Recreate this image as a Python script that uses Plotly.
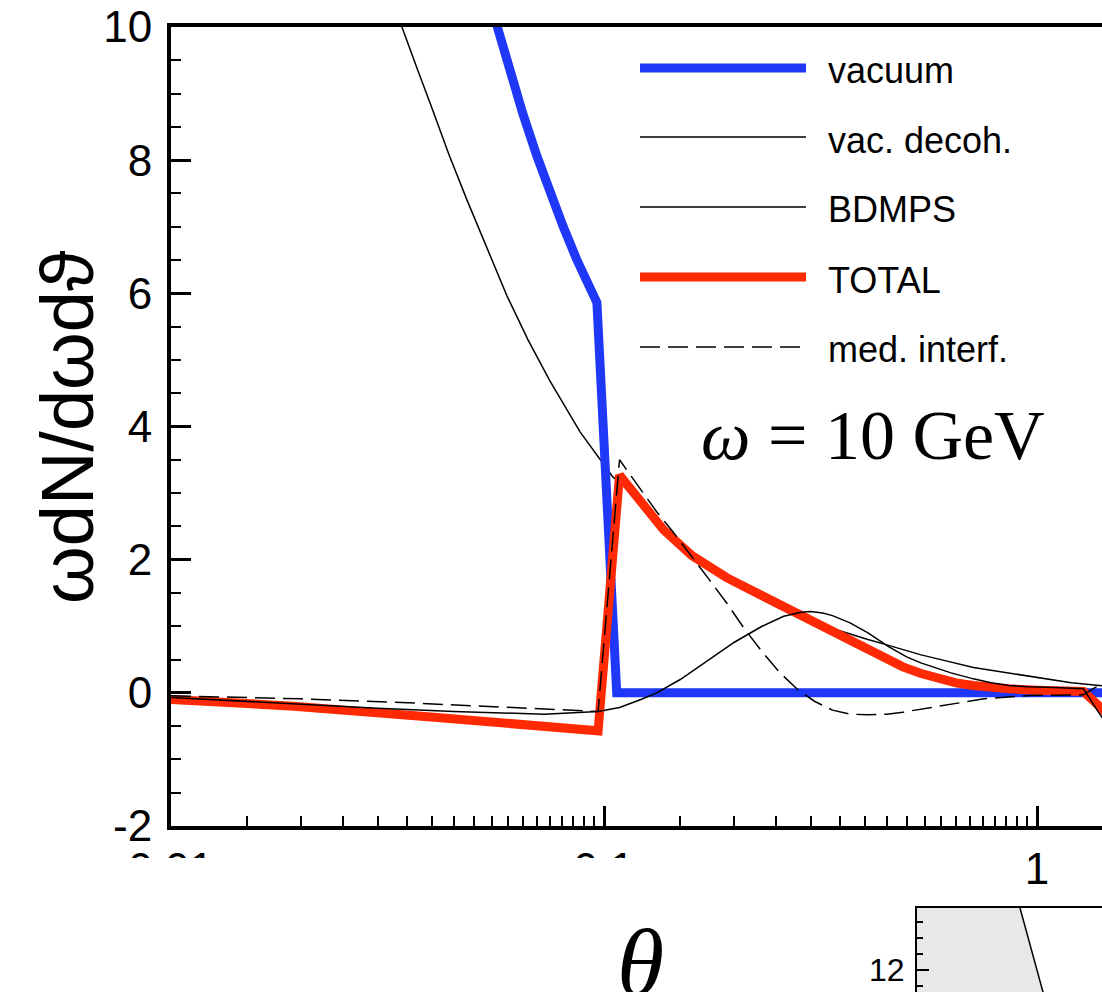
import plotly.graph_objects as go

W, H = 1102, 992

# ---- spectra  omega dN/(d omega d theta)  at omega = 10 GeV ----
theta_vacuum = [0.053, 0.0566, 0.0607, 0.065, 0.070, 0.075, 0.0804, 0.0866,
                0.0963, 0.107, 1.6]
vacuum = [10.65, 10.0, 9.32, 8.69, 8.06, 7.52, 7.01, 6.50,
          5.86, 0.0, 0.0]

theta_decoh = [0.032, 0.03417, 0.037, 0.04007, 0.04386, 0.04827, 0.05368,
               0.0597, 0.06676, 0.07505, 0.08805, 0.1049, 0.1086, 0.12,
               0.137, 0.16, 0.192, 0.22, 0.25, 0.28, 0.324, 0.37, 0.407,
               0.45, 0.49, 0.54, 0.59, 0.65, 0.713, 0.783, 0.861, 0.95,
               1.077, 1.2, 1.42, 1.6]
vac_decoh = [10.5, 9.98, 9.38, 8.78, 8.08, 7.40, 6.67,
             5.96, 5.30, 4.68, 3.92, 3.24, 3.17, 2.87,
             2.41, 2.02, 1.70, 1.48, 1.29, 1.15, 1.0, 0.88, 0.80,
             0.72, 0.65, 0.57, 0.51, 0.44, 0.38, 0.34, 0.30, 0.25,
             0.195, 0.15, 0.105, 0.08]

theta_bdmps = [0.01, 0.0192, 0.03, 0.045, 0.0557, 0.0727, 0.0969, 0.1086,
               0.1217, 0.1323, 0.15, 0.175, 0.2, 0.2317, 0.26, 0.285, 0.3,
               0.32, 0.337, 0.37, 0.407, 0.455, 0.5, 0.539, 0.59, 0.633,
               0.713, 0.783, 0.861, 0.953, 1.1, 1.28, 1.39, 1.5]
bdmps = [-0.07, -0.17, -0.23, -0.28, -0.3, -0.32, -0.28, -0.22,
         -0.1, 0.0, 0.2, 0.5, 0.76, 1.0, 1.15, 1.21, 1.22,
         1.2, 1.16, 1.05, 0.9, 0.69, 0.54, 0.45, 0.36, 0.3,
         0.21, 0.15, 0.11, 0.09, 0.08, 0.06, -0.3, -0.6]

theta_total = [0.01, 0.0192, 0.0392, 0.0555, 0.0795, 0.0969, 0.1086, 0.12,
               0.1372, 0.1596, 0.175, 0.192, 0.21, 0.2317, 0.255, 0.28,
               0.307, 0.337, 0.37, 0.407, 0.45, 0.49, 0.54, 0.59, 0.65,
               0.713, 0.78, 0.861, 1.0, 1.15, 1.28, 1.5]
total = [-0.1, -0.2, -0.36, -0.45, -0.55, -0.57, 3.27, 2.92,
         2.45, 2.06, 1.88, 1.73, 1.60, 1.46, 1.33, 1.19,
         1.06, 0.93, 0.79, 0.64, 0.50, 0.39, 0.29, 0.21, 0.15,
         0.11, 0.08, 0.06, 0.04, 0.03, 0.02, -0.4]

theta_interf = [0.01, 0.02, 0.0327, 0.0555, 0.0795, 0.0969, 0.1086, 0.12,
                0.1323, 0.145, 0.1596, 0.175, 0.192, 0.21, 0.2317, 0.255,
                0.28, 0.307, 0.337, 0.37, 0.407, 0.45, 0.49, 0.56, 0.633,
                0.755, 0.953, 1.28, 1.37, 1.5]
med_interf = [-0.045, -0.09, -0.14, -0.21, -0.25, -0.28, 3.5, 3.1,
              2.72, 2.4, 2.05, 1.7, 1.35, 0.98, 0.62, 0.3,
              0.05, -0.13, -0.26, -0.32, -0.33, -0.32, -0.29, -0.23, -0.17,
              -0.09, -0.04, -0.03, 0.09, 0.25]

# ---- small panel below ----
inset_x = [0.545, 0.62, 0.695]
inset_y = [14.2, 12.6, 11.0]

# ---- axis ticks ----
x_major = [0.01, 0.1, 1]
x_major_text = ["0.01", "0.1", "1"]
x_minor = [round(k * 0.005, 4) for k in range(3, 20)] + [round(k * 0.05, 3) for k in range(3, 20)]
y_major = [-2, 0, 2, 4, 6, 8, 10]
y_major_text = ["-2", "0", "2", "4", "6", "8", "10"]

BLUE = "#1F37F6"
RED = "#FF2A04"
SANS = "Liberation Sans, Arial, DejaVu Sans, sans-serif"
SERIF = "Liberation Serif, Times New Roman, DejaVu Serif, serif"


def fx(p):
    return p / W


def fy(p):
    return 1 - p / H


fig = go.Figure()

fig.add_trace(go.Scatter(x=theta_decoh, y=vac_decoh, mode="lines",
                         line=dict(color="black", width=1.5), name="vac. decoh."))
fig.add_trace(go.Scatter(x=theta_vacuum, y=vacuum, mode="lines",
                         line=dict(color=BLUE, width=9), name="vacuum"))
fig.add_trace(go.Scatter(x=theta_total, y=total, mode="lines",
                         line=dict(color=RED, width=9), name="TOTAL"))
fig.add_trace(go.Scatter(x=theta_bdmps, y=bdmps, mode="lines",
                         line=dict(color="black", width=1.5), name="BDMPS"))
fig.add_trace(go.Scatter(x=theta_interf, y=med_interf, mode="lines",
                         line=dict(color="black", width=1.5, dash="20px,8px"),
                         name="med. interf."))

fig.add_trace(go.Scatter(x=inset_x, y=inset_y, mode="lines", fill="tozerox",
                         fillcolor="#E8E8E8", line=dict(color="black", width=1.5),
                         xaxis="x2", yaxis="y2", showlegend=False))

fig.update_layout(
    width=W, height=H, autosize=False,
    margin=dict(l=0, r=0, t=0, b=0),
    template="none",
    paper_bgcolor="white", plot_bgcolor="rgba(0,0,0,0)",
    showlegend=False,
    xaxis=dict(
        type="log", range=[-2, 0.1501], domain=[fx(171), 1],
        showline=True, linewidth=4, linecolor="black", mirror=True,
        showgrid=False, zeroline=False,
        tickmode="array", tickvals=x_major, ticktext=x_major_text,
        ticks="inside", ticklen=20, tickwidth=3, tickcolor="black",
        minor=dict(tickmode="array", tickvals=x_minor, ticks="inside",
                   ticklen=10, tickwidth=2, tickcolor="black", showgrid=False),
        tickfont=dict(family=SANS, size=44, color="black"),
        ticklabelstandoff=1, automargin=False,
    ),
    yaxis=dict(
        range=[-2, 10], domain=[fy(826), fy(27)],
        showline=True, linewidth=4, linecolor="black", mirror=False,
        showgrid=False, zeroline=False,
        tickmode="array", tickvals=y_major, ticktext=y_major_text,
        ticks="inside", ticklen=20, tickwidth=3, tickcolor="black",
        minor=dict(dtick=0.5, ticks="inside", ticklen=10, tickwidth=2,
                   tickcolor="black", showgrid=False),
        tickfont=dict(family=SANS, size=44, color="black"),
        ticklabelstandoff=6, automargin=False,
    ),
    xaxis2=dict(
        range=[0, 1], domain=[fx(917), 1], anchor="y2", side="top",
        showline=True, linewidth=2, linecolor="black", mirror=False,
        showgrid=False, zeroline=False, ticks="", showticklabels=False,
        automargin=False,
    ),
    yaxis2=dict(
        range=[11.3, 13.95], domain=[0, fy(908)], anchor="x2",
        showline=True, linewidth=2, linecolor="black", mirror=False,
        showgrid=False, zeroline=False,
        tick0=0, dtick=2, ticks="inside", ticklen=12, tickwidth=2,
        tickcolor="black",
        minor=dict(dtick=0.5, ticks="inside", ticklen=6, tickwidth=1.5,
                   tickcolor="black", showgrid=False),
        tickfont=dict(family=SANS, size=32, color="black"),
        ticklabelstandoff=4, automargin=False,
    ),
)

shapes = [
    # strip that hides the lower part of the 0.01 / 0.1 labels
    dict(type="rect", xref="paper", yref="paper", x0=0, x1=fx(860),
         y0=0, y1=fy(858), fillcolor="white", line=dict(width=0), layer="above"),
]
annotations = []

# legend drawn as line samples + labels
legend_rows = [
    ("vacuum", BLUE, 9, "solid", 68),
    ("vac. decoh.", "black", 1.5, "solid", 137),
    ("BDMPS", "black", 1.5, "solid", 207),
    ("TOTAL", RED, 9, "solid", 277),
    ("med. interf.", "black", 1.5, "20px,8px", 347),
]
for label, color, width, dash, yrow in legend_rows:
    shapes.append(dict(type="line", xref="paper", yref="paper",
                       x0=fx(640), x1=fx(806), y0=fy(yrow), y1=fy(yrow),
                       line=dict(color=color, width=width, dash=dash),
                       layer="above"))
    annotations.append(dict(x=fx(826), y=fy(yrow + 3), xref="paper", yref="paper",
                            text=label, showarrow=False, xanchor="left",
                            yanchor="middle",
                            font=dict(family=SANS, size=36, color="black")))

annotations.append(dict(x=fx(873), y=fy(436), xref="paper", yref="paper",
                        text="<i>ω</i> = 10 GeV", showarrow=False,
                        xanchor="center", yanchor="middle",
                        font=dict(family=SERIF, size=70, color="black")))

annotations.append(dict(x=fx(67), y=fy(427), xref="paper", yref="paper",
                        text="ωdN/dωdϑ", textangle=-90, showarrow=False,
                        xanchor="center", yanchor="middle",
                        font=dict(family=SANS, size=74, color="black")))

annotations.append(dict(x=fx(640), y=fy(962), xref="paper", yref="paper",
                        text="<i>θ</i>", showarrow=False,
                        xanchor="center", yanchor="middle",
                        font=dict(family=SERIF, size=96, color="black")))

fig.update_layout(shapes=shapes, annotations=annotations)

fig.write_html("out.html")
